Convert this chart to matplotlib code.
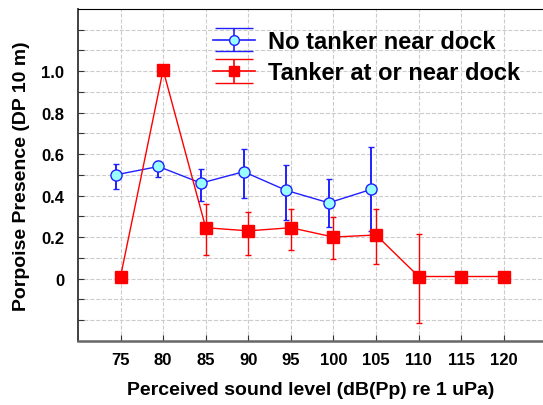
import numpy as np
import matplotlib.pyplot as plt

plt.rcParams['font.family'] = ['Liberation Sans', 'DejaVu Sans']
plt.rcParams['font.weight'] = 'bold'

levels = [75, 80, 85, 90, 95, 100, 105, 110, 115, 120]

no_tanker_x = [75, 80, 85, 90, 95, 100, 105]
no_tanker = [0.50, 0.54, 0.46, 0.515, 0.425, 0.365, 0.43]
no_tanker_lo = [0.43, 0.49, 0.375, 0.39, 0.28, 0.25, 0.23]
no_tanker_hi = [0.55, 0.565, 0.53, 0.625, 0.545, 0.48, 0.635]

tanker_x = levels
tanker = [0.01, 1.005, 0.245, 0.23, 0.245, 0.20, 0.21, 0.01, 0.01, 0.01]
tanker_lo = [0.01, 1.005, 0.115, 0.115, 0.14, 0.093, 0.07, -0.215, 0.01, 0.01]
tanker_hi = [0.01, 1.005, 0.36, 0.32, 0.335, 0.295, 0.335, 0.215, 0.01, 0.01]

BLUE = '#2020ff'
RED = '#ff0000'


def main():
    fig = plt.figure(figsize=(5.43, 4.06), dpi=100)
    ax = fig.add_axes([0.1436, 0.158, 0.8564, 0.818])

    bx = np.array(no_tanker_x) - 0.55
    b = np.array(no_tanker)
    berr = [b - np.array(no_tanker_lo), np.array(no_tanker_hi) - b]
    ax.errorbar(bx, b, yerr=berr, color=BLUE, lw=1.0, elinewidth=1.4,
                capsize=2.5, marker='o', ms=8, mfc='#99ffff', mec=BLUE,
                mew=1.0, zorder=3)

    r = np.array(tanker)
    rerr = [r - np.array(tanker_lo), np.array(tanker_hi) - r]
    ax.errorbar(tanker_x, r, yerr=rerr, color=RED, lw=1.0, elinewidth=1.0,
                capsize=2, marker='s', ms=8, mfc=RED, mec=RED, zorder=4)

    # legend proxies with wide caps like the original
    hb = ax.errorbar([np.nan], [np.nan], yerr=[1], color=BLUE, lw=1.2,
                     capsize=14, marker='o', ms=7, mfc='#99ffff', mec=BLUE)
    hr = ax.errorbar([np.nan], [np.nan], yerr=[1], color=RED, lw=1.2,
                     capsize=14, marker='s', ms=7, mfc=RED, mec=RED)

    ax.set_xlim(70, 124.6)
    ax.set_ylim(-0.3, 1.3)
    ax.set_xticks(levels)
    ax.set_xticklabels([str(v) for v in levels])
    yt = np.round(np.arange(-0.2, 1.25, 0.1), 1)
    ax.set_yticks(yt)
    labels = []
    for v in yt:
        if 0 <= v <= 1.0 and round(v * 10) % 2 == 0:
            labels.append('0' if v == 0 else f'{v:.1f}')
        else:
            labels.append('')
    ax.set_yticklabels(labels)
    ax.tick_params(direction='in', length=4, labelsize=12, pad=10, colors='#333333',
                   labelcolor='black')
    ax.tick_params(axis='x', pad=8)
    ax.spines['right'].set_visible(False)
    ax.spines['top'].set_color('black')
    ax.spines['left'].set_color('#333333')
    ax.spines['bottom'].set_color('#666666')
    ax.spines['left'].set_linewidth(1.3)
    ax.spines['bottom'].set_linewidth(1.8)
    ax.grid(True, ls='--', color='#cccccc', lw=0.8)
    ax.set_axisbelow(True)

    ax.set_xlabel('Perceived sound level (dB(Pp) re 1 uPa)', fontsize=14,
                  fontweight='bold', labelpad=10)
    ax.set_ylabel('Porpoise Presence (DP 10 m)', fontsize=14,
                  fontweight='bold', labelpad=8)

    ax.legend([hb, hr], ['No tanker near dock', 'Tanker at or near dock'],
              loc='center left', bbox_to_anchor=(0.27, 0.855), frameon=False,
              fontsize=17, handlelength=1.8, labelspacing=0.35,
              handletextpad=0.55, borderaxespad=0)
    fig.savefig('out.png', dpi=100)


if __name__ == '__main__':
    main()
